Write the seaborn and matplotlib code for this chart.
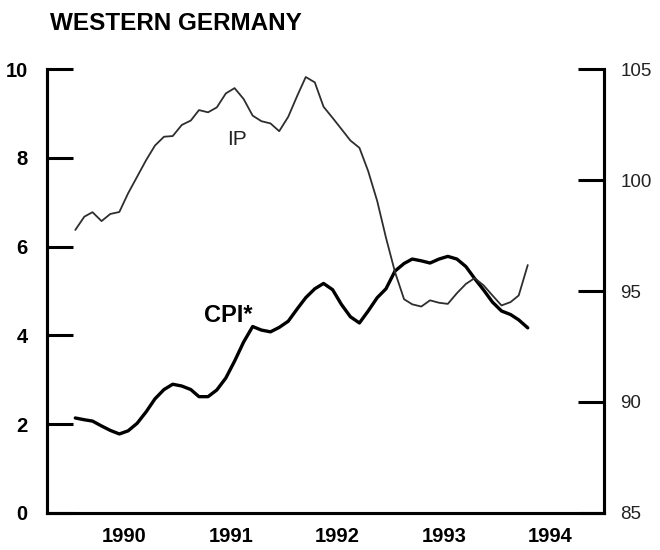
import pandas as pd
import matplotlib
matplotlib.use("Agg")
import matplotlib.pyplot as plt
import seaborn as sns

# monthly data, Jan 1990 - Apr 1994
months = pd.date_range("1990-01-01", "1994-04-01", freq="MS") + pd.Timedelta(days=14)

cpi = [2.14, 2.10, 2.07, 1.96, 1.86, 1.78, 1.85, 2.02, 2.28, 2.57, 2.78, 2.90,
       2.86, 2.78, 2.62, 2.62, 2.77, 3.04, 3.42, 3.85, 4.20, 4.12, 4.08, 4.18,
       4.32, 4.60, 4.85, 5.05, 5.17, 5.03, 4.70, 4.42, 4.28, 4.55, 4.85, 5.05,
       5.45, 5.62, 5.72, 5.68, 5.63, 5.72, 5.78, 5.72, 5.55, 5.28, 5.02, 4.75,
       4.55, 4.47, 4.35, 4.17]

ip = [97.75, 98.35, 98.55, 98.15, 98.47, 98.56, 99.40, 100.15, 100.90, 101.55, 101.95, 101.98,
      102.48, 102.68, 103.15, 103.05, 103.27, 103.90, 104.14, 103.65, 102.90, 102.65, 102.55, 102.20,
      102.85, 103.80, 104.64, 104.40, 103.30, 102.80, 102.30, 101.78, 101.45, 100.40, 99.05, 97.40,
      95.85, 94.63, 94.40, 94.30, 94.58, 94.47, 94.42, 94.90, 95.32, 95.58, 95.25, 94.80,
      94.35, 94.50, 94.80, 96.17]

years = [1990, 1991, 1992, 1993, 1994]
left_ticks = [0, 2, 4, 6, 8, 10]
right_ticks = [85, 90, 95, 100, 105]

df = pd.DataFrame({"date": months, "cpi": cpi, "ip": ip})

sns.set_theme(style="white")
plt.rcParams["font.family"] = ["Liberation Sans", "DejaVu Sans"]
plt.rcParams["text.color"] = "black"
plt.rcParams["xtick.color"] = "black"
plt.rcParams["ytick.color"] = "black"

fig = plt.figure(figsize=(6.6, 5.5), dpi=100)
ax = fig.add_axes([0.0712, 0.0673, 0.8438, 0.8072])
ax2 = ax.twinx()

sns.lineplot(data=df, x="date", y="cpi", ax=ax, color="black", linewidth=2.4)
sns.lineplot(data=df, x="date", y="ip", ax=ax2, color="#2e2e2e", linewidth=1.3)

ax.set_xlim(pd.Timestamp("1989-10-10"), pd.Timestamp("1995-01-01"))
ax.set_ylim(0, 10)
ax2.set_ylim(85, 105)

# year boundaries as ticks, labels centred mid-year
ax.set_xticks([pd.Timestamp(f"{y}-01-01") for y in years])
ax.set_xticklabels([])
ax.set_xticks([pd.Timestamp(f"{y}-07-02") for y in years], minor=True)
ax.set_xticklabels([str(y) for y in years], minor=True)
ax.tick_params(axis="x", which="major", direction="in", length=20, width=2.2, color="black")
ax.tick_params(axis="x", which="minor", length=0, pad=10, labelsize=14.5, labelcolor="black")

ax.set_yticks(left_ticks)
ax.set_yticklabels([str(t) for t in left_ticks])
ax.set_yticks([10], minor=True)
ax.tick_params(axis="y", which="major", direction="in", length=19, width=2.2,
               pad=14, labelsize=14.5, color="black", labelcolor="black", left=True)
ax.tick_params(axis="y", which="minor", direction="in", length=40, width=2.2, color="black", left=True)

ax2.set_yticks(right_ticks)
ax2.set_yticklabels([str(t) for t in right_ticks])
ax2.set_yticks([105], minor=True)
ax2.tick_params(axis="y", which="major", direction="in", length=19, width=2.2,
                pad=12, labelsize=13.5, color="black", labelcolor="#222222", right=True)
ax2.tick_params(axis="y", which="minor", direction="in", length=40, width=2.2, color="black", right=True)

for lab in ax.get_xticklabels(minor=True) + ax.get_yticklabels():
    lab.set_fontweight("bold")

for a in (ax, ax2):
    a.set_xlabel("")
    a.set_ylabel("")
    a.spines["top"].set_visible(False)
    for s in ("left", "right", "bottom"):
        a.spines[s].set_linewidth(2.2)
        a.spines[s].set_color("black")

ax.text(pd.Timestamp("1991-06-25"), 4.44, "CPI*", fontsize=17, fontweight="bold",
        color="black", ha="center", va="center")
ax.text(pd.Timestamp("1991-07-22"), 8.42, "IP", fontsize=15, color="#222222",
        ha="center", va="center")

fig.text(0.076, 1 - 23.5 / 550, "WESTERN GERMANY", fontsize=17.5, fontweight="bold",
         color="black", ha="left", va="center")

fig.savefig("out.png", dpi=100)
plt.close(fig)
